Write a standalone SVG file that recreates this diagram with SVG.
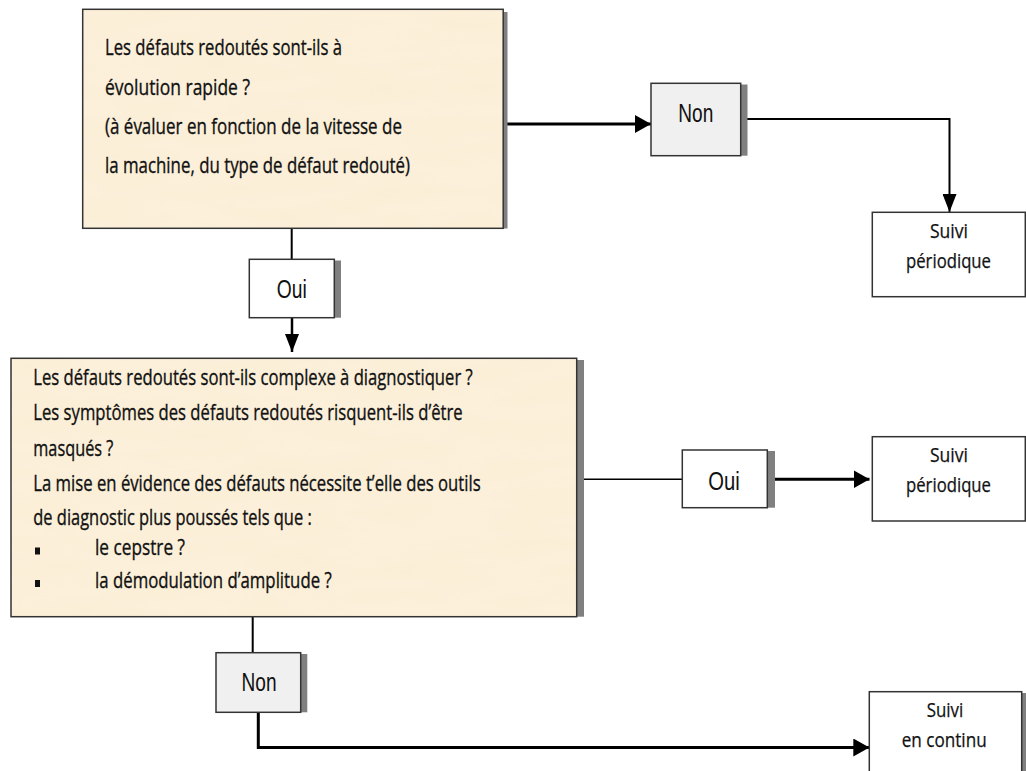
<svg xmlns="http://www.w3.org/2000/svg" width="1026" height="771" viewBox="0 0 1026 771">
  <style>
    .q { font-family: "Open Sans", "Noto Sans", sans-serif; font-size: 22px; fill: #111; stroke: #111; stroke-width: 0.35; }
    .res { font-family: "Open Sans", "Noto Sans", sans-serif; font-size: 19.5px; fill: #111; stroke: #111; stroke-width: 0.25; text-anchor: middle; }
    .ans { font-family: "Liberation Sans", Arial, sans-serif; font-size: 25px; fill: #111; text-anchor: middle; }
    .frame { fill: none; stroke: #333; stroke-width: 1.5; }
    .paper { fill: #fcf0da; }
    .shadow { fill: #808080; }
    .box { stroke: #333; stroke-width: 1.5; }
    .link { fill: none; stroke: #000; }
  </style>
  <defs>
    <filter id="parchment" x="0" y="0" width="100%" height="100%">
      <feTurbulence type="fractalNoise" baseFrequency="0.012 0.05" numOctaves="3" seed="7" result="noise"/>
      <feColorMatrix in="noise" type="matrix" values="0 0 0 0 0.94  0 0 0 0 0.85  0 0 0 0 0.66  0 0 0 1.2 -0.45" result="tint"/>
      <feComposite in="tint" in2="SourceGraphic" operator="in" result="spots"/>
      <feMerge>
        <feMergeNode in="SourceGraphic"/>
        <feMergeNode in="spots"/>
      </feMerge>
    </filter>
    <marker id="arrowH" markerUnits="userSpaceOnUse" viewBox="0 0 16 18" markerWidth="16" markerHeight="18" refX="16" refY="9" orient="auto">
      <path d="M0,0 L16,9 L0,18 Z" fill="#000"/>
    </marker>
    <marker id="arrowV" markerUnits="userSpaceOnUse" viewBox="0 0 18 14" markerWidth="18" markerHeight="14" refX="18" refY="7" orient="auto">
      <path d="M0,0 L18,7 L0,14 Z" fill="#000"/>
    </marker>
  </defs>

  <rect width="1026" height="771" fill="#fff"/>

  <!-- connectors -->
  <g id="connectors">
    <path class="link" stroke-width="3" d="M507,124 H651" marker-end="url(#arrowH)"/>
    <path class="link" stroke-width="2" d="M747,119 H949.5 V212" marker-end="url(#arrowV)"/>
    <path class="link" stroke-width="2" d="M291.7,228 V259.3"/>
    <path class="link" stroke-width="2.5" d="M292,318 V352" marker-end="url(#arrowV)"/>
    <path class="link" stroke-width="1.5" d="M584,479.3 H682.3"/>
    <path class="link" stroke-width="3" d="M775,479.3 H869.5" marker-end="url(#arrowH)"/>
    <path class="link" stroke-width="2" d="M252.7,617 V652.7"/>
    <path class="link" stroke-width="3" d="M258.3,713 V747.5 H869.3" marker-end="url(#arrowH)"/>
  </g>

  <!-- question 1 -->
  <g id="q-evolution">
    <rect class="shadow" x="503" y="12" width="4.5" height="216.5"/>
    <rect class="paper" x="82.7" y="9.3" width="420.5" height="219" filter="url(#parchment)"/>
    <rect class="frame" x="82.7" y="9.3" width="420.5" height="219"/>
    <text class="q" x="105" y="55" textLength="237" lengthAdjust="spacingAndGlyphs">Les défauts redoutés sont-ils à</text>
    <text class="q" x="105" y="94.5" textLength="145" lengthAdjust="spacingAndGlyphs">évolution rapide ?</text>
    <text class="q" x="105" y="134" textLength="297" lengthAdjust="spacingAndGlyphs">(à évaluer en fonction de la vitesse de</text>
    <text class="q" x="105" y="172.5" textLength="305" lengthAdjust="spacingAndGlyphs">la machine, du type de défaut redouté)</text>
  </g>

  <!-- answer Non (top) -->
  <g id="a-non-1">
    <rect class="shadow" x="740" y="84.5" width="7.5" height="71.2"/>
    <rect class="box" x="651" y="83.3" width="89.7" height="72.4" fill="#f0f0f0"/>
    <text class="ans" x="695.8" y="121.7" textLength="35" lengthAdjust="spacingAndGlyphs">Non</text>
  </g>

  <!-- result: periodic monitoring (top) -->
  <g id="r-periodique-1">
    <rect class="box" x="872.3" y="212.3" width="153" height="84.4" fill="#fff"/>
    <text class="res" x="949" y="238" textLength="38" lengthAdjust="spacingAndGlyphs">Suivi</text>
    <text class="res" x="948.5" y="267.5" textLength="85" lengthAdjust="spacingAndGlyphs">périodique</text>
  </g>

  <!-- answer Oui (top) -->
  <g id="a-oui-1">
    <rect class="shadow" x="334" y="260.5" width="7" height="57.2"/>
    <rect class="box" x="249.3" y="259.3" width="85" height="58.4" fill="#fff"/>
    <text class="ans" x="291.7" y="298.3" textLength="30" lengthAdjust="spacingAndGlyphs">Oui</text>
  </g>

  <!-- question 2 -->
  <g id="q-complexite">
    <rect class="shadow" x="576.7" y="360" width="7.3" height="256.7"/>
    <rect class="paper" x="11" y="358.3" width="565.7" height="258.4" filter="url(#parchment)"/>
    <rect class="frame" x="11" y="358.3" width="565.7" height="258.4"/>
    <text class="q" x="33.3" y="385" textLength="439.4" lengthAdjust="spacingAndGlyphs">Les défauts redoutés sont-ils complexe à diagnostiquer ?</text>
    <text class="q" x="33.3" y="420" textLength="429.4" lengthAdjust="spacingAndGlyphs">Les symptômes des défauts redoutés risquent-ils d’être</text>
    <text class="q" x="33.3" y="456" textLength="80" lengthAdjust="spacingAndGlyphs">masqués ?</text>
    <text class="q" x="33.3" y="491" textLength="447.4" lengthAdjust="spacingAndGlyphs">La mise en évidence des défauts nécessite t’elle des outils</text>
    <text class="q" x="33.3" y="524.5" textLength="278.4" lengthAdjust="spacingAndGlyphs">de diagnostic plus poussés tels que :</text>
    <rect x="35" y="547.5" width="5" height="7" fill="#111"/>
    <text class="q" x="95" y="555" textLength="90" lengthAdjust="spacingAndGlyphs">le cepstre ?</text>
    <rect x="35" y="580" width="5" height="7" fill="#111"/>
    <text class="q" x="95" y="587.5" textLength="236.7" lengthAdjust="spacingAndGlyphs">la démodulation d’amplitude ?</text>
  </g>

  <!-- answer Oui (middle) -->
  <g id="a-oui-2">
    <rect class="shadow" x="767" y="451" width="8" height="56.7"/>
    <rect class="box" x="682.3" y="450" width="85" height="57.7" fill="#fff"/>
    <text class="ans" x="724" y="490" textLength="31.5" lengthAdjust="spacingAndGlyphs">Oui</text>
  </g>

  <!-- result: periodic monitoring (middle) -->
  <g id="r-periodique-2">
    <rect class="box" x="872.3" y="436.7" width="153" height="84.3" fill="#fff"/>
    <text class="res" x="949" y="462" textLength="38" lengthAdjust="spacingAndGlyphs">Suivi</text>
    <text class="res" x="948.5" y="492" textLength="85" lengthAdjust="spacingAndGlyphs">périodique</text>
  </g>

  <!-- answer Non (bottom) -->
  <g id="a-non-2">
    <rect class="shadow" x="300" y="654" width="7.3" height="58.3"/>
    <rect class="box" x="216" y="652.7" width="84.7" height="59.6" fill="#f0f0f0"/>
    <text class="ans" x="259" y="690.7" textLength="35" lengthAdjust="spacingAndGlyphs">Non</text>
  </g>

  <!-- result: continuous monitoring -->
  <g id="r-continu">
    <rect class="shadow" x="1021.7" y="693" width="4.3" height="80"/>
    <rect class="box" x="869.3" y="691.7" width="152.4" height="90" fill="#fff"/>
    <text class="res" x="945" y="717" textLength="36.6" lengthAdjust="spacingAndGlyphs">Suivi</text>
    <text class="res" x="944.2" y="746.7" textLength="85" lengthAdjust="spacingAndGlyphs">en continu</text>
  </g>
</svg>
